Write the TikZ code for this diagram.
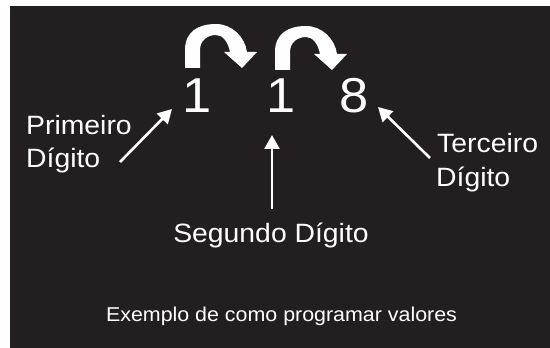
\documentclass[tikz,border=0pt]{standalone}
\usepackage{fontspec}
\setmainfont[FakeStretch=1.07]{Liberation Sans}
\usetikzlibrary{arrows.meta}
\definecolor{bgdark}{HTML}{231F20}
\tikzset{
  lbl/.style={text=white,inner sep=0pt,font=\fontsize{26.5}{30}\selectfont},
  digit/.style={text=white,inner sep=0pt,font=\fontsize{49}{55}\selectfont,anchor=base},
  captxt/.style={text=white,inner sep=0pt,font=\fontsize{20}{24}\selectfont,anchor=base},
  ptr/.style={white,line width=2.6pt,-{Triangle[length=14pt,width=15pt]}},
  curvarrow/.pic={
    \fill[white] (0,0) -- (0,18) .. controls (0,37) and (14,44) .. (31,44)
      .. controls (47,44) and (60,31) .. (62,16) -- (72,16) -- (57,0) -- (39,16) -- (45,16)
      .. controls (43,26) and (38,33) .. (31,33)
      .. controls (23,33) and (15,28) .. (15,18) -- (15,0) -- cycle;
  }
}
\begin{document}
\begin{tikzpicture}[x=1pt,y=1pt]
\useasboundingbox (0,0) rectangle (550,348);
\fill[white] (0,0) rectangle (550,348);
\fill[bgdark] (10,0) rectangle (550,342);
% curved arrows
\pic at (185,280) {curvarrow};
\pic at (275,278) {curvarrow};
% digits
\node[digit] (d1) at (197,235) {1};
\node[digit] (d2) at (281.5,235) {1};
\node[digit] (d3) at (354,235) {8};
% labels
\node[lbl,anchor=base west] (prim1) at (26,213) {Primeiro};
\node[lbl,anchor=base west] (prim2) at (26,180) {Dígito};
\node[lbl,anchor=base west] (terc1) at (437,195) {Terceiro};
\node[lbl,anchor=base west] (terc2) at (436,161) {Dígito};
\node[lbl,anchor=base] (seg) at (271,105) {Segundo Dígito};
\node[captxt] (ex) at (281.5,26) {Exemplo de como programar valores};
% pointers
\coordinate (a1t) at (120,186);
\coordinate (a1h) at (172,239);
\coordinate (a2t) at (272,139);
\coordinate (a2h) at (272,213);
\coordinate (a3t) at (430,190);
\coordinate (a3h) at (378,241);
\draw[ptr] (a1t) -- (a1h);
\draw[ptr] (a2t) -- (a2h);
\draw[ptr] (a3t) -- (a3h);
\end{tikzpicture}
\end{document}
